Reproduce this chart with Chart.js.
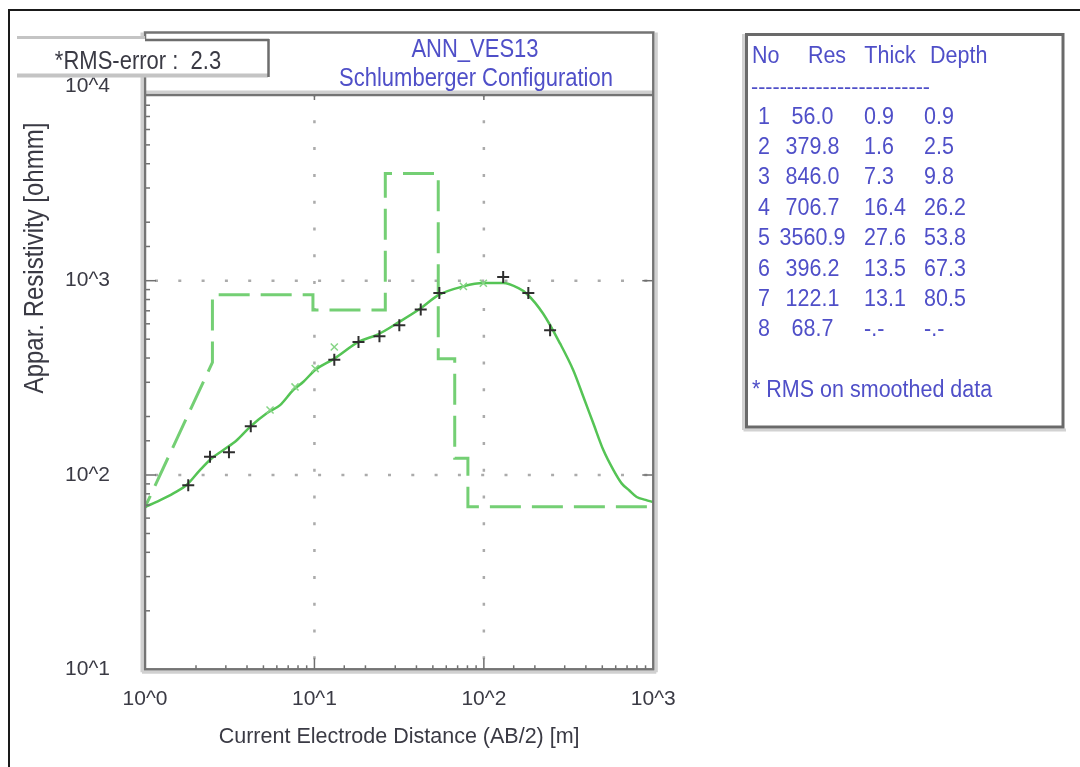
<!DOCTYPE html>
<html>
<head>
<meta charset="utf-8">
<title>ANN_VES13</title>
<script src="https://cdn.jsdelivr.net/npm/chart.js@4.4.1/dist/chart.umd.min.js"></script>
<style>
  html, body { margin: 0; padding: 0; background: #fff; }
  #wrap { width: 1080px; height: 767px; position: relative; }
</style>
</head>
<body>
<div id="wrap"><canvas id="ves"></canvas></div>
<script>
// ---- sounding data (AB/2 in m, apparent resistivity in ohmm) ----
const obsAB2 = [1.8, 2.42, 3.13, 4.21, 13.1, 18.2, 24.2, 31.7, 42.4, 54.6, 130, 183, 246];
const obsRho = [88.5, 124, 131, 178, 392, 484, 518, 589, 710, 865, 1045, 865, 556];

// smoothed data markers (green x)
const smAB2 = [5.47, 7.68, 10.1, 13.1, 75.7, 99.3];
const smRho = [216, 284, 353, 456, 935, 970];

// fitted model response curve
const fitAB2 = [1.0, 1.23, 1.47, 1.76, 2.11, 2.48, 2.9, 3.48, 4.17, 5.23, 6.27, 7.51, 8.61,
                10.1, 13.1, 18.2, 23.8, 31.3, 42.0, 53.9, 75.7, 99.3, 130, 160, 179, 224,
                282, 337, 387, 443, 508, 582, 652, 720, 798, 900, 1000];
const fitRho = [68.4, 74.3, 80.5, 88.8, 106, 122, 134.5, 151, 177, 208, 229, 274, 302,
                347, 397, 484, 530, 610, 717, 843, 935, 972, 972, 915, 857, 676,
                474, 346, 252, 184, 134, 106, 90.3, 83.5, 77.1, 74.5, 72.5];

// layered model (dashed step line)
const modelAB2 = [0.9, 2.5, 2.5, 9.8, 9.8, 26.2, 26.2, 53.8, 53.8, 67.3, 67.3, 80.5, 80.5, 1000];
const modelRho = [56.0, 379.8, 846.0, 846.0, 706.7, 706.7, 3560.9, 3560.9, 396.2, 396.2, 122.1, 122.1, 68.7, 68.7];

// ---- layer table ----
const tableHead  = ['No', 'Res', 'Thick', 'Depth'];
const layerNo    = ['1', '2', '3', '4', '5', '6', '7', '8'];
const layerRes   = ['56.0', '379.8', '846.0', '706.7', '3560.9', '396.2', '122.1', '68.7'];
const layerThick = ['0.9', '1.6', '7.3', '16.4', '27.6', '13.5', '13.1', '-.-'];
const layerDepth = ['0.9', '2.5', '9.8', '26.2', '53.8', '67.3', '80.5', '-.-'];
const tableNote  = '* RMS on smoothed data';

const titleLines = ['ANN_VES13', 'Schlumberger Configuration'];
const rmsText    = '*RMS-error :  2.3';
const xTitle     = 'Current Electrode Distance (AB/2) [m]';
const yTitle     = 'Appar. Resistivity [ohmm]';
const xRange     = [1, 1000];
const yRange     = [10, 10000];

const FONT  = '"Liberation Sans", Arial, sans-serif';
const BLUE  = '#4f4fc8';
const INK   = '#3a3a44';
const STRETCH = 1.15;   // the old screen font is taller than Arial

const pts = (xs, ys) => xs.map((x, i) => ({ x, y: ys[i] }));
const isDecade = v => Math.abs(Math.log10(v) - Math.round(Math.log10(v))) < 1e-6;
const powLabel = v => isDecade(v) ? '10^' + Math.round(Math.log10(v)) : '';

const TOP_BOX = 32.5;   // top of the title box
const TOP_RULE = 95;    // line under the title

function line(ctx, x1, y1, x2, y2) {
  ctx.beginPath(); ctx.moveTo(x1, y1); ctx.lineTo(x2, y2); ctx.stroke();
}

// text drawn a bit taller than wide, like the original bitmap font
function tallText(ctx, s, x, y) {
  ctx.save();
  ctx.translate(x, y);
  ctx.scale(1, STRETCH);
  ctx.fillText(s, 0, 0);
  ctx.restore();
}

const vesDecor = {
  id: 'vesDecor',
  beforeDatasetsDraw(chart) {
    const { ctx, chartArea: a, scales: { x, y } } = chart;
    ctx.save();
    ctx.strokeStyle = '#ababab';
    ctx.lineWidth = 2.5;
    ctx.lineDashOffset = -10;
    ctx.setLineDash([3, 20.3]);
    y.ticks.forEach(t => {
      if (!isDecade(t.value) || t.value <= y.min || t.value >= y.max) return;
      const py = y.getPixelForValue(t.value);
      line(ctx, a.left, py, a.right, py);
    });
    ctx.setLineDash([3, 23.8]);
    x.ticks.forEach(t => {
      if (!isDecade(t.value) || t.value <= x.min || t.value >= x.max) return;
      const px = x.getPixelForValue(t.value);
      line(ctx, px, a.bottom, px, a.top);
    });
    ctx.restore();
  },
  afterDatasetsDraw(chart) {
    const { ctx, chartArea: a, scales: { x, y } } = chart;
    ctx.save();

    // title box
    ctx.fillStyle = '#fff';
    ctx.fillRect(a.left, TOP_BOX, a.right - a.left, TOP_RULE - TOP_BOX);

    // inward tick marks
    ctx.strokeStyle = '#6f6f6f';
    ctx.lineWidth = 1.5;
    y.ticks.forEach(t => {
      if (t.value <= y.min || t.value >= y.max) return;
      const py = y.getPixelForValue(t.value);
      const big = isDecade(t.value);
      line(ctx, a.left, py, a.left + (big ? 11 : 5), py);
      if (big) line(ctx, a.right, py, a.right - 11, py);
    });
    x.ticks.forEach(t => {
      if (t.value <= x.min || t.value >= x.max) return;
      const px = x.getPixelForValue(t.value);
      const big = isDecade(t.value);
      line(ctx, px, a.bottom, px, a.bottom - (big ? 11 : 4));
      if (big) line(ctx, px, TOP_RULE, px, TOP_RULE + 5);
    });

    // frame, with a light shadow line
    ctx.strokeStyle = '#d0d0d0';
    ctx.lineWidth = 3;
    line(ctx, a.left - 3, TOP_BOX, a.left - 3, a.bottom + 3);
    line(ctx, a.left - 3, a.bottom + 3, a.right + 3, a.bottom + 3);
    line(ctx, a.right + 3, TOP_BOX, a.right + 3, a.bottom + 3);
    line(ctx, a.left, TOP_RULE - 3, a.right, TOP_RULE - 3);
    ctx.strokeStyle = '#747474';
    ctx.lineWidth = 2.5;
    ctx.strokeRect(a.left, TOP_BOX, a.right - a.left, a.bottom - TOP_BOX);
    line(ctx, a.left, TOP_RULE, a.right, TOP_RULE);

    // title
    ctx.fillStyle = BLUE;
    ctx.font = '22px ' + FONT;
    ctx.textAlign = 'center';
    ctx.textBaseline = 'middle';
    tallText(ctx, titleLines[0], 475, 50);
    tallText(ctx, titleLines[1], 476, 79);
    ctx.restore();
  },
  afterDraw(chart) {
    const { ctx } = chart;
    ctx.save();

    // RMS box
    ctx.fillStyle = '#fff';
    ctx.fillRect(17, 39, 252, 36);
    ctx.strokeStyle = '#c4c4c4';
    ctx.lineWidth = 3;
    line(ctx, 17, 37.5, 145, 37.5);
    ctx.lineWidth = 4;
    line(ctx, 17, 75.5, 268, 75.5);
    ctx.strokeStyle = '#6d6d6d';
    ctx.lineWidth = 2.5;
    line(ctx, 145, 40, 269, 40);
    line(ctx, 268.5, 39, 268.5, 77);
    ctx.fillStyle = INK;
    ctx.font = '22px ' + FONT;
    ctx.textAlign = 'center';
    ctx.textBaseline = 'middle';
    tallText(ctx, rmsText, 138, 62);

    // y axis title
    ctx.save();
    ctx.translate(35, 258);
    ctx.rotate(-Math.PI / 2);
    ctx.scale(1, STRETCH);
    ctx.font = '24px ' + FONT;
    ctx.fillText(yTitle, 0, 0);
    ctx.restore();

    // layer table box
    ctx.strokeStyle = '#d2d2d2';
    ctx.lineWidth = 3;
    line(ctx, 743.5, 34, 743.5, 430);
    line(ctx, 743.5, 430, 1066, 430);
    ctx.strokeStyle = '#6a6a6a';
    ctx.lineWidth = 3;
    ctx.strokeRect(746.5, 34.5, 316.5, 392.5);

    ctx.fillStyle = BLUE;
    ctx.font = '21.5px ' + FONT;
    ctx.textBaseline = 'middle';
    ctx.textAlign = 'left';
    tallText(ctx, tableHead[0], 752, 56);
    ctx.textAlign = 'center';
    tallText(ctx, tableHead[1], 827, 56);
    tallText(ctx, tableHead[2], 890, 56);
    ctx.textAlign = 'left';
    tallText(ctx, tableHead[3], 930, 56);

    let dashes = '';
    while (ctx.measureText(dashes + '-').width <= 186) dashes += '-';
    ctx.fillText(dashes, 751, 88);

    layerNo.forEach((n, i) => {
      const ry = 116.7 + i * 30.4;
      ctx.textAlign = 'center';
      tallText(ctx, n, 764, ry);
      tallText(ctx, layerRes[i], 812.5, ry);
      ctx.textAlign = 'left';
      tallText(ctx, layerThick[i], 864, ry);
      tallText(ctx, layerDepth[i], 924, ry);
    });
    tallText(ctx, tableNote, 752, 390);

    // outer window frame
    ctx.strokeStyle = '#1a1a1a';
    ctx.lineWidth = 2;
    line(ctx, 9, 10, 9, 767);
    line(ctx, 8, 10, 1080, 10);
    ctx.restore();
  }
};

new Chart(document.getElementById('ves'), {
  type: 'scatter',
  data: {
    datasets: [
      {
        label: 'Field data',
        data: pts(obsAB2, obsRho),
        pointStyle: 'cross',
        pointRadius: 6,
        borderWidth: 2,
        borderColor: '#2e2e2e',
        backgroundColor: '#2e2e2e',
        showLine: false
      },
      {
        label: 'Smoothed data',
        data: pts(smAB2, smRho),
        pointStyle: 'crossRot',
        pointRadius: 5,
        borderWidth: 1.5,
        borderColor: '#86d586',
        backgroundColor: '#86d586',
        showLine: false
      },
      {
        label: 'Model response',
        data: pts(fitAB2, fitRho),
        showLine: true,
        pointRadius: 0,
        borderColor: '#55c455',
        borderWidth: 2.5,
        cubicInterpolationMode: 'monotone',
        clip: 0
      },
      {
        label: 'Layered model',
        data: pts(modelAB2, modelRho),
        showLine: true,
        pointRadius: 0,
        borderColor: '#74cf74',
        borderWidth: 3,
        borderDash: [31, 11],
        tension: 0,
        clip: 0
      }
    ]
  },
  options: {
    responsive: true,
    maintainAspectRatio: false,
    animation: false,
    events: [],
    layout: { padding: { left: 0, right: 426.7, top: 86.4, bottom: 0 } },
    plugins: { legend: { display: false }, tooltip: { enabled: false } },
    scales: {
      x: {
        type: 'logarithmic',
        min: xRange[0], max: xRange[1],
        afterFit: s => { s.height = 97.7; },
        grid: { display: false, drawTicks: false },
        border: { display: false },
        ticks: {
          autoSkip: false, maxRotation: 0, padding: 17,
          color: INK, font: { family: FONT, size: 21 },
          callback: v => powLabel(v)
        },
        title: {
          display: true, text: xTitle, color: INK,
          font: { family: FONT, size: 21.5 },
          padding: { top: 0, bottom: 17 }
        }
      },
      y: {
        type: 'logarithmic',
        min: yRange[0], max: yRange[1],
        afterFit: s => { s.width = 145; },
        grid: { display: false, drawTicks: false },
        border: { display: false },
        ticks: {
          autoSkip: false, padding: 35,
          color: INK, font: { family: FONT, size: 21 },
          callback: v => powLabel(v)
        }
      }
    }
  },
  plugins: [vesDecor]
});
</script>
</body>
</html>
